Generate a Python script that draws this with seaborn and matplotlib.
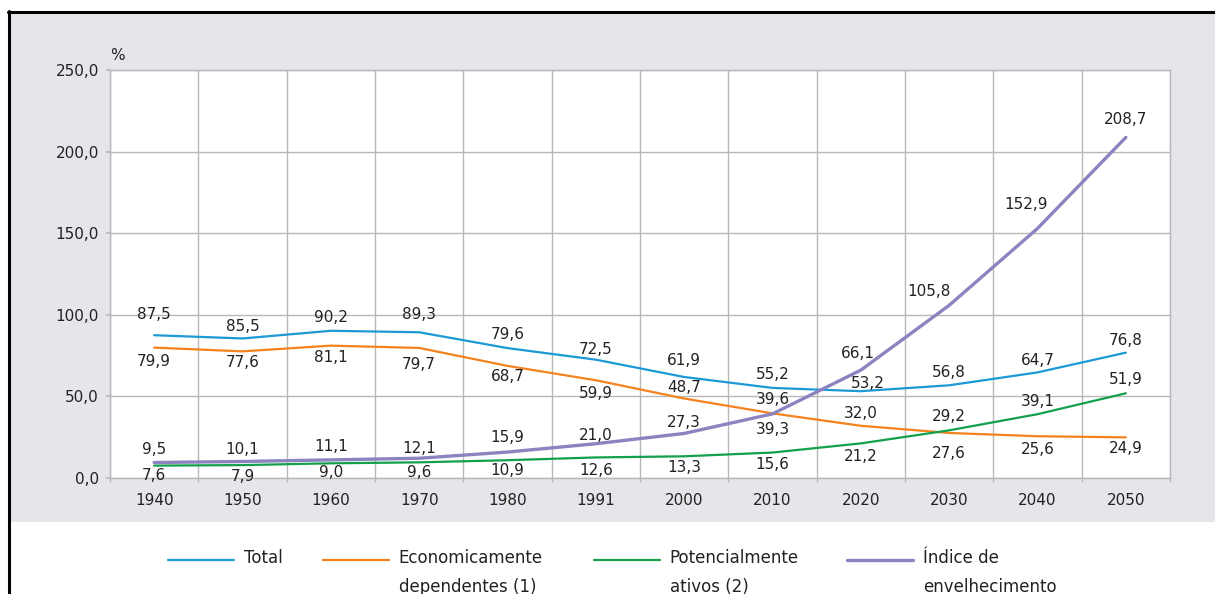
import numpy as np
import pandas as pd
import matplotlib.pyplot as plt
import seaborn as sns
from matplotlib.patches import Rectangle
from matplotlib.lines import Line2D
from matplotlib.legend_handler import HandlerLine2D

# dados (%)
anos = ['1940', '1950', '1960', '1970', '1980', '1991', '2000', '2010', '2020', '2030', '2040', '2050']
total = [87.5, 85.5, 90.2, 89.3, 79.6, 72.5, 61.9, 55.2, 53.2, 56.8, 64.7, 76.8]
dependentes = [79.9, 77.6, 81.1, 79.7, 68.7, 59.9, 48.7, 39.6, 32.0, 27.6, 25.6, 24.9]
ativos = [7.6, 7.9, 9.0, 9.6, 10.9, 12.6, 13.3, 15.6, 21.2, 29.2, 39.1, 51.9]
indice = [9.5, 10.1, 11.1, 12.1, 15.9, 21.0, 27.3, 39.3, 66.1, 105.8, 152.9, 208.7]
series_nomes = ['Total', 'Economicamente\ndependentes (1)', 'Potencialmente\nativos (2)', 'Índice de\nenvelhecimento']
y_ticks = [0, 50, 100, 150, 200, 250]

cores = ['#1b9ad6', '#f5821f', '#12a04a', '#8c84c0']
espessuras = [1.6, 1.6, 1.6, 2.4]

# posição dos rótulos (pixels em relação ao ponto)
desloc_y = [
    [21, 12, 13, 18, 14, 10, 16, 13, 8, 13, 12, 12],
    [-14, -11, -12, -17, -11, -13, 11, 14, 12, -21, -13, -11],
    [-10, -11, -9, -10, -10, -13, -11, -12, -13, 14, 13, 14],
    [13, 12, 13, 10, 15, 8, 11, -16, 17, 14, 24, 18],
]
desloc_x = [
    [0, 0, 0, 0, 0, 0, 0, 0, 7, 0, 0, 0],
    [0] * 12,
    [0] * 12,
    [0, 0, 0, 0, 0, 0, 0, 0, -3, -20, -11, 0],
]

valores = [total, dependentes, ativos, indice]
df = pd.DataFrame({
    'ano': anos * 4,
    'valor': total + dependentes + ativos + indice,
    'serie': [n for n in series_nomes for _ in anos],
})

sns.set_theme(style='white')
plt.rcParams['font.family'] = ['DejaVu Sans']
FS = 11
TXT = '#222222'

fig = plt.figure(figsize=(12.15, 5.94), dpi=100)
W, H = 1215, 594

# painel cinza e bordas
fig.patches.append(Rectangle((10 / W, 72 / H), 1 - 10 / W, (581 - 72) / H,
                             transform=fig.transFigure, facecolor='#e4e6e9',
                             edgecolor='none', zorder=-10))
fig.lines.append(Line2D([9 / W, 9 / W], [0, 583 / H], transform=fig.transFigure,
                        color='black', lw=2.2))
fig.lines.append(Line2D([8 / W, 1], [582 / H, 582 / H], transform=fig.transFigure,
                        color='black', lw=2.2))

ax = fig.add_axes([110 / W, (H - 478) / H, (1170 - 110) / W, (478 - 70) / H])
ax.set_facecolor('white')

sns.lineplot(data=df, x='ano', y='valor', hue='serie', palette=cores,
             sort=False, ax=ax, legend=False)
for ln, lw in zip(ax.lines, espessuras):
    ln.set_linewidth(lw)

for vals, dy, dx in zip(valores, desloc_y, desloc_x):
    for i, v in enumerate(vals):
        ax.annotate(f'{v:.1f}'.replace('.', ','), (i, v), xytext=(dx[i], dy[i]),
                    textcoords='offset pixels', ha='center', va='center',
                    fontsize=FS, color=TXT)

ax.set_xlim(-0.5, len(anos) - 0.5)
ax.set_ylim(0, 250)
ax.set_yticks(y_ticks)
ax.set_yticklabels([f'{t:.1f}'.replace('.', ',') for t in y_ticks])
ax.set_xticks(range(len(anos)))
ax.set_xticklabels(anos)
ax.set_xticks(np.arange(-0.5, len(anos)), minor=True)
ax.grid(False)
ax.grid(axis='x', which='minor', color='#b8b8b8', lw=1)
ax.grid(axis='y', which='major', color='#b8b8b8', lw=1)
ax.tick_params(axis='x', which='major', length=0, pad=11, labelsize=FS, labelcolor=TXT)
ax.tick_params(axis='x', which='minor', length=3, color='#b8b8b8', bottom=True)
ax.tick_params(axis='y', length=3, color='#b8b8b8', left=True, pad=5, labelsize=FS, labelcolor=TXT)
for s in ax.spines.values():
    s.set_color('#b8b8b8')
    s.set_linewidth(1)
ax.set_xlabel('')
ax.set_ylabel('')
fig.text(117 / W, (H - 55) / H, '%', fontsize=FS, color=TXT, ha='center', va='center')


class HandlerTopo(HandlerLine2D):
    # linha da legenda alinhada com a primeira linha do texto
    def create_artists(self, legend, orig_handle, xdescent, ydescent, width, height, fontsize, trans):
        arts = super().create_artists(legend, orig_handle, xdescent, ydescent, width, height, fontsize, trans)
        for a in arts:
            a.set_ydata(np.asarray(a.get_ydata(), dtype=float) + 10)
        return arts


leg_x = [168, 323, 594, 847]
for i, (nome, c) in enumerate(zip(series_nomes, cores)):
    h = Line2D([], [], color=c, lw=espessuras[i])
    rotulo = nome if '\n' in nome else nome + '\n'
    leg = fig.legend([h], [rotulo], loc='upper left', bbox_to_anchor=(leg_x[i] / W, (H - 549) / H),
                     frameon=False, fontsize=12, handlelength=3.95, handletextpad=0.6,
                     borderpad=0, borderaxespad=0, labelcolor=TXT,
                     handler_map={Line2D: HandlerTopo()})
    for t in leg.get_texts():
        t.set_linespacing(1.8)

fig.savefig('out.png', dpi=100)
